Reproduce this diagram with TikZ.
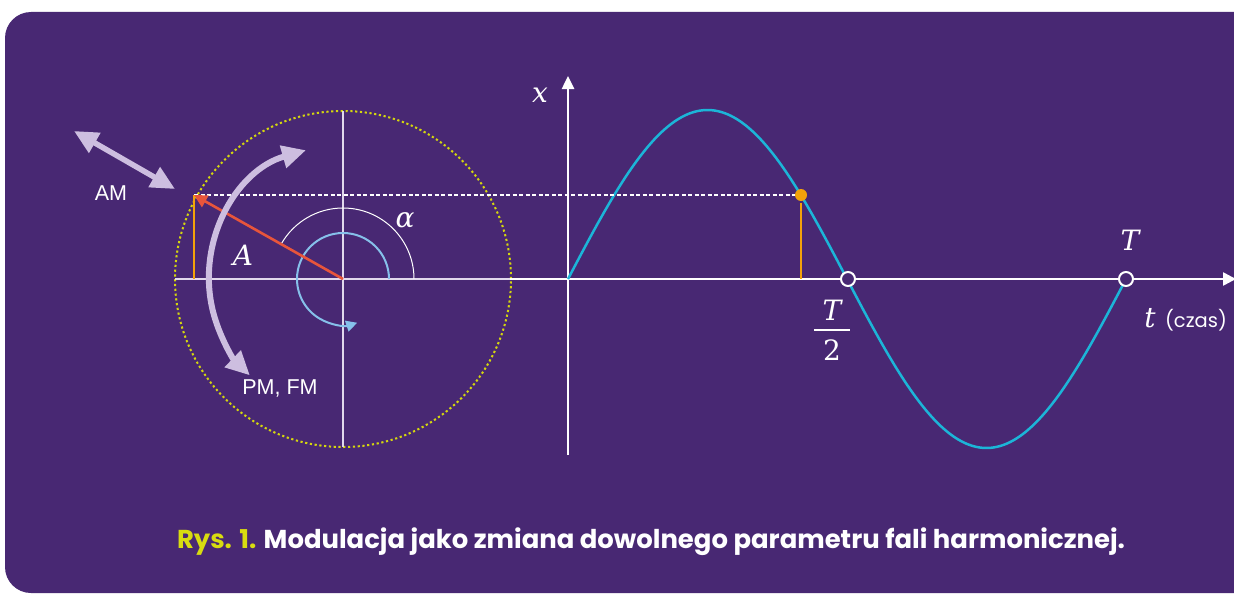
\documentclass[tikz,border=0pt]{standalone}
\usepackage{fontspec}
\setsansfont{Poppins}
\newfontfamily\mathlike{DejaVu Serif}
\newfontfamily\labelsans{Liberation Sans}
\usetikzlibrary{arrows.meta,calc}
\definecolor{bg}{HTML}{482873}
\definecolor{sinec}{HTML}{1CB5D8}
\definecolor{yel}{HTML}{D4D60E}
\definecolor{org}{HTML}{F3A20A}
\definecolor{redc}{HTML}{E8553B}
\definecolor{lav}{HTML}{CDBEE0}
\definecolor{lblue}{HTML}{86C0EA}
\definecolor{capyel}{HTML}{D8DC10}
\tikzset{
  mathlbl/.style={text=white,font=\mathlike\itshape\fontsize{28}{34}\selectfont,inner sep=0pt},
  sanslbl/.style={text=white,font=\labelsans\fontsize{21.5}{26}\selectfont,inner sep=0pt},
  thinaxis/.style={draw=lav!60!white,line width=1.3pt},
  mainaxis/.style={draw=white,line width=2.5pt},
  lavarrow/.style={draw=lav,line width=5.5pt,{Triangle[length=24pt,width=22pt]}-{Triangle[length=24pt,width=22pt]}},
  hole/.style={circle,draw=white,fill=bg,line width=2pt,minimum size=14pt,inner sep=0pt}
}
\begin{document}
\begin{tikzpicture}[x=1pt,y=1pt]
\useasboundingbox (0,0) rectangle (1234,-594);
\fill[white] (0,0) rectangle (1234,-594);
\fill[bg,rounded corners=26pt] (5,-12) rectangle (1300,-593);
% key points
\coordinate (O) at (343,-279);
\coordinate (P) at (194,-195);
\coordinate (Pb) at (194,-279);
\coordinate (Q) at (801,-195);
\coordinate (Qb) at (801,-279);
\coordinate (X0) at (568,-279);
% dotted circle
\draw[yel,line width=2pt,dash pattern=on 2.2pt off 2.6pt] (O) circle (168pt);
% circle axes
\coordinate (cl) at (175,-279);
\coordinate (cr) at (512,-279);
\coordinate (ct) at (343,-111);
\coordinate (cb) at (343,-447);
\draw[thinaxis] (cl) -- (cr);
\draw[thinaxis] (ct) -- (cb);
% main axes
\coordinate (tl) at (510,-279);
\coordinate (tr) at (1236,-279);
\coordinate (xb) at (568,-455);
\coordinate (xt) at (568,-76);
\draw[mainaxis,-{Triangle[length=13pt,width=13pt]}] (tl) -- (tr);
\draw[mainaxis,-{Triangle[length=13pt,width=12pt]}] (xb) -- (xt);
% sine
\draw[sinec,line width=2.5pt] plot[domain=0:558,samples=200] ({568+\x},{-279+169*sin(\x/558*360)});
% dashed projection
\draw[white,line width=2.8pt,dash pattern=on 4pt off 2.5pt] (P) -- (Q);
% orange lines
\draw[org,line width=2.8pt] (P) -- (Pb);
\draw[org,line width=2.8pt] ($(Q)+(0,-8)$) -- (Qb);
\fill[org] (Q) circle (6pt);
% angle arcs
\draw[white,line width=1pt] ($(O)+(0:71pt)$) arc[start angle=0,end angle=150,radius=71pt];
\draw[lblue,line width=2pt,-{Triangle[length=11pt,width=11pt]}] ($(O)+(0:46pt)$) arc[start angle=0,end angle=288,radius=46pt];
% phasor
\draw[redc,line width=2.6pt,-{Triangle[length=13pt,width=13pt]}] (O) -- (P);
% AM / PM FM arrows
\coordinate (am1) at (74,-131);
\coordinate (am2) at (175,-189);
\draw[lavarrow] (am1) -- (am2);
\draw[lavarrow,line width=6pt] ($(O)+(106:134pt)$) arc[start angle=106,end angle=226,radius=134pt];
% holes
\node[hole] (h1) at (848,-279) {};
\node[hole] (h2) at (1126,-279) {};
% labels
\node[mathlbl] (lx) at (540,-95) {x};
\node[mathlbl] (lA) at (243,-255) {A};
\node[mathlbl] (la) at (405,-220) {α};
\node[mathlbl] (lT) at (1130,-240) {T};
\node[mathlbl,align=center] (lT2a) at (832,-310) {T};
\draw[white,line width=2.5pt] (814,-330) -- (850,-330);
\node[text=white,font=\mathlike\fontsize{28}{34}\selectfont,inner sep=0pt] (lT2b) at (832,-350) {2};
\node[mathlbl] (lt) at (1150,-318) {t};
\node[text=white,font=\sffamily\fontsize{19.5}{23}\selectfont,inner sep=0pt] (lczas) at (1196,-320) {(czas)};
\node[sanslbl] (lam) at (111,-193) {AM};
\node[sanslbl] (lpm) at (280,-388) {PM, FM};
\node[text=white,font=\sffamily\bfseries\fontsize{25.9}{30}\selectfont,inner sep=0pt] (cap) at (651,-542) {\textcolor{capyel}{Rys. 1.} Modulacja jako zmiana dowolnego parametru fali harmonicznej.};
\end{tikzpicture}
\end{document}
